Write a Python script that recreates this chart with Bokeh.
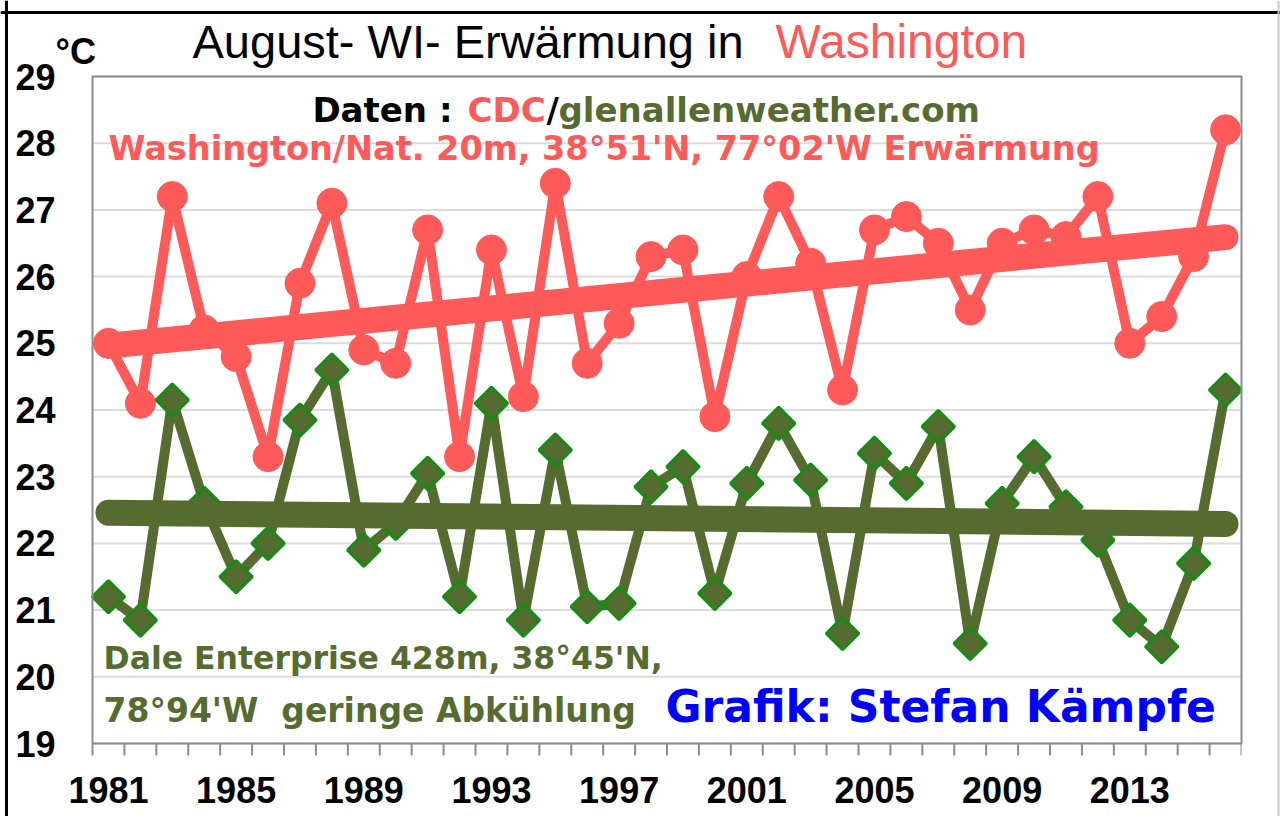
import numpy as np
from bokeh.plotting import figure
from bokeh.models import Span
from bokeh.core.properties import value
from bokeh.embed import file_html
from bokeh.resources import INLINE

# ---------------- data ----------------
years = list(range(1981, 2017))
washington = [25.0, 24.1, 27.2, 25.2, 24.8, 23.3, 25.9, 27.1, 24.9, 24.7,
              26.7, 23.3, 26.4, 24.2, 27.4, 24.7, 25.3, 26.3, 26.4, 23.9,
              26.0, 27.2, 26.2, 24.3, 26.7, 26.9, 26.5, 25.5, 26.5, 26.7,
              26.6, 27.2, 25.0, 25.4, 26.3, 28.2]
dale = [21.2, 20.85, 24.15, 22.6, 21.5, 22.0, 23.85, 24.6, 21.9, 22.3,
        23.05, 21.2, 24.1, 20.85, 23.4, 21.05, 21.1, 22.85, 23.15, 21.25,
        22.9, 23.8, 22.95, 20.65, 23.35, 22.9, 23.75, 20.5, 22.6, 23.3,
        22.55, 22.05, 20.85, 20.45, 21.7, 24.3]
label_years = years[::4]
y_ticks = list(range(19, 30))

# ---------------- style ----------------
RED = "#ff5a5a"
OLIVE = "#566b2f"
DGREEN = "#158c15"
BLUE = "#0000ff"
GRID = "#dcdcdc"
FRAME = "#8c8c8c"

W, H = 1280, 816
PL, PR, PT, PB = 92, 1241, 76, 743           # plot-area box in canvas px
X0, X1 = years[0] - 0.5, years[-1] + 0.5
Y0, Y1 = y_ticks[0], y_ticks[-1]
SX = (PR - PL) / (X1 - X0)
SY = (PB - PT) / (Y1 - Y0)
XS = X0 - PL / SX
XE = XS + W / SX
YS = Y0 - (H - PB) / SY
YE = Y0 + PB / SY

p = figure(width=W, height=H, x_range=(XS, XE), y_range=(YS, YE),
           output_backend="svg", toolbar_location=None,
           x_axis_location=None, y_axis_location=None,
           min_border=0, min_border_left=0, min_border_right=0,
           min_border_top=0, min_border_bottom=0)
p.background_fill_color = "white"
p.border_fill_color = "white"
p.outline_line_color = None
p.xgrid.visible = False
p.ygrid.visible = False


def dx(px):
    return XS + px / SX


def dy(py):
    return Y0 + (PB - py) / SY


TICKFONT = dict(text_font=value("Liberation Sans"), text_font_size="36px",
                text_font_style="bold", text_color="black")

# horizontal grid lines
p.segment(x0=[X0] * len(y_ticks), x1=[X1] * len(y_ticks), y0=y_ticks, y1=y_ticks,
          line_color=GRID, line_width=2)

# y tick labels
p.text(x=[dx(55)] * len(y_ticks), y=y_ticks, text=[str(t) for t in y_ticks],
       text_align="right", text_baseline="middle", **TICKFONT)

# x tick marks between categories and labels every 4 years
boundaries = [y - 0.5 for y in years] + [years[-1] + 0.5]
p.segment(x0=boundaries, x1=boundaries, y0=[Y0] * len(boundaries),
          y1=[dy(PB + 12)] * len(boundaries), line_color=FRAME, line_width=2)
p.text(x=label_years, y=[dy(789.5)] * len(label_years),
       text=[str(y) for y in label_years],
       text_align="center", text_baseline="middle", **TICKFONT)

# ---------------- series ----------------
p.line(years, washington, line_width=10, color=RED)
p.scatter(years, washington, marker="circle", size=30, fill_color=RED, line_color=RED)

p.line(years, dale, line_width=10, color=OLIVE)
p.scatter(years, dale, marker="square", angle=np.pi / 4, size=23,
          fill_color=OLIVE, line_color=DGREEN, line_width=3)

# linear trends
xs = np.array(years, dtype=float)
for vals, col in ((washington, RED), (dale, OLIVE)):
    k, d = np.polyfit(xs, np.array(vals), 1)
    tx = [years[0], years[-1]]
    p.line(tx, [k * t + d for t in tx], line_width=26, color=col, line_cap="round")

# clip the marks at the right edge of the plot area, then draw its frame
p.quad(left=[X1], right=[XE], bottom=[Y0 - 0.2], top=[Y1 + 0.2],
       fill_color="white", line_color=None)
p.quad(left=[X0], right=[X1], bottom=[Y0], top=[Y1],
       fill_color=None, line_color=FRAME, line_width=2)

# outer border of the picture
p.add_layout(Span(location=dx(6), dimension="height", line_color="black", line_width=3))
p.add_layout(Span(location=dy(12), dimension="width", line_color="black", line_width=3))
p.add_layout(Span(location=dx(1278), dimension="height", line_color="#c8c8c8", line_width=2))


# ---------------- texts (y = centre of the capitals) ----------------
def lab(text, px, py, color, size, font="DejaVu Sans", style="bold", align="left"):
    p.text(x=[dx(px)], y=[dy(py)], text=[text], text_color=color,
           text_font=value(font), text_font_size=size,
           text_font_style=style, text_baseline="middle", text_align=align)


lab("°C", 55, 51, "black", "36px", font="Liberation Sans")
lab("August- WI- Erwärmung in", 192, 41, "black", "47px", font="Liberation Sans", style="normal")
lab("Washington", 775, 41, RED, "48px", font="Liberation Sans", style="normal")

lab("Daten :", 452, 109, "black", "34px", align="right")
lab("CDC", 467, 109, RED, "34px")
lab("/", 546, 109, "black", "34px")
lab("glenallenweather.com", 558, 109, OLIVE, "34px")
lab("Washington/Nat. 20m, 38°51'N, 77°02'W Erwärmung", 108, 147.5, RED, "33.5px")

lab("Dale Enterprise 428m, 38°45'N,", 103, 657.5, OLIVE, "31.5px")
lab("78°94'W\u00a0\u00a0geringe Abkühlung", 103, 710, OLIVE, "33px")
lab("Grafik: Stefan Kämpfe", 665, 705.5, BLUE, "44px")

open("out.html", "w").write(file_html(p, INLINE))
